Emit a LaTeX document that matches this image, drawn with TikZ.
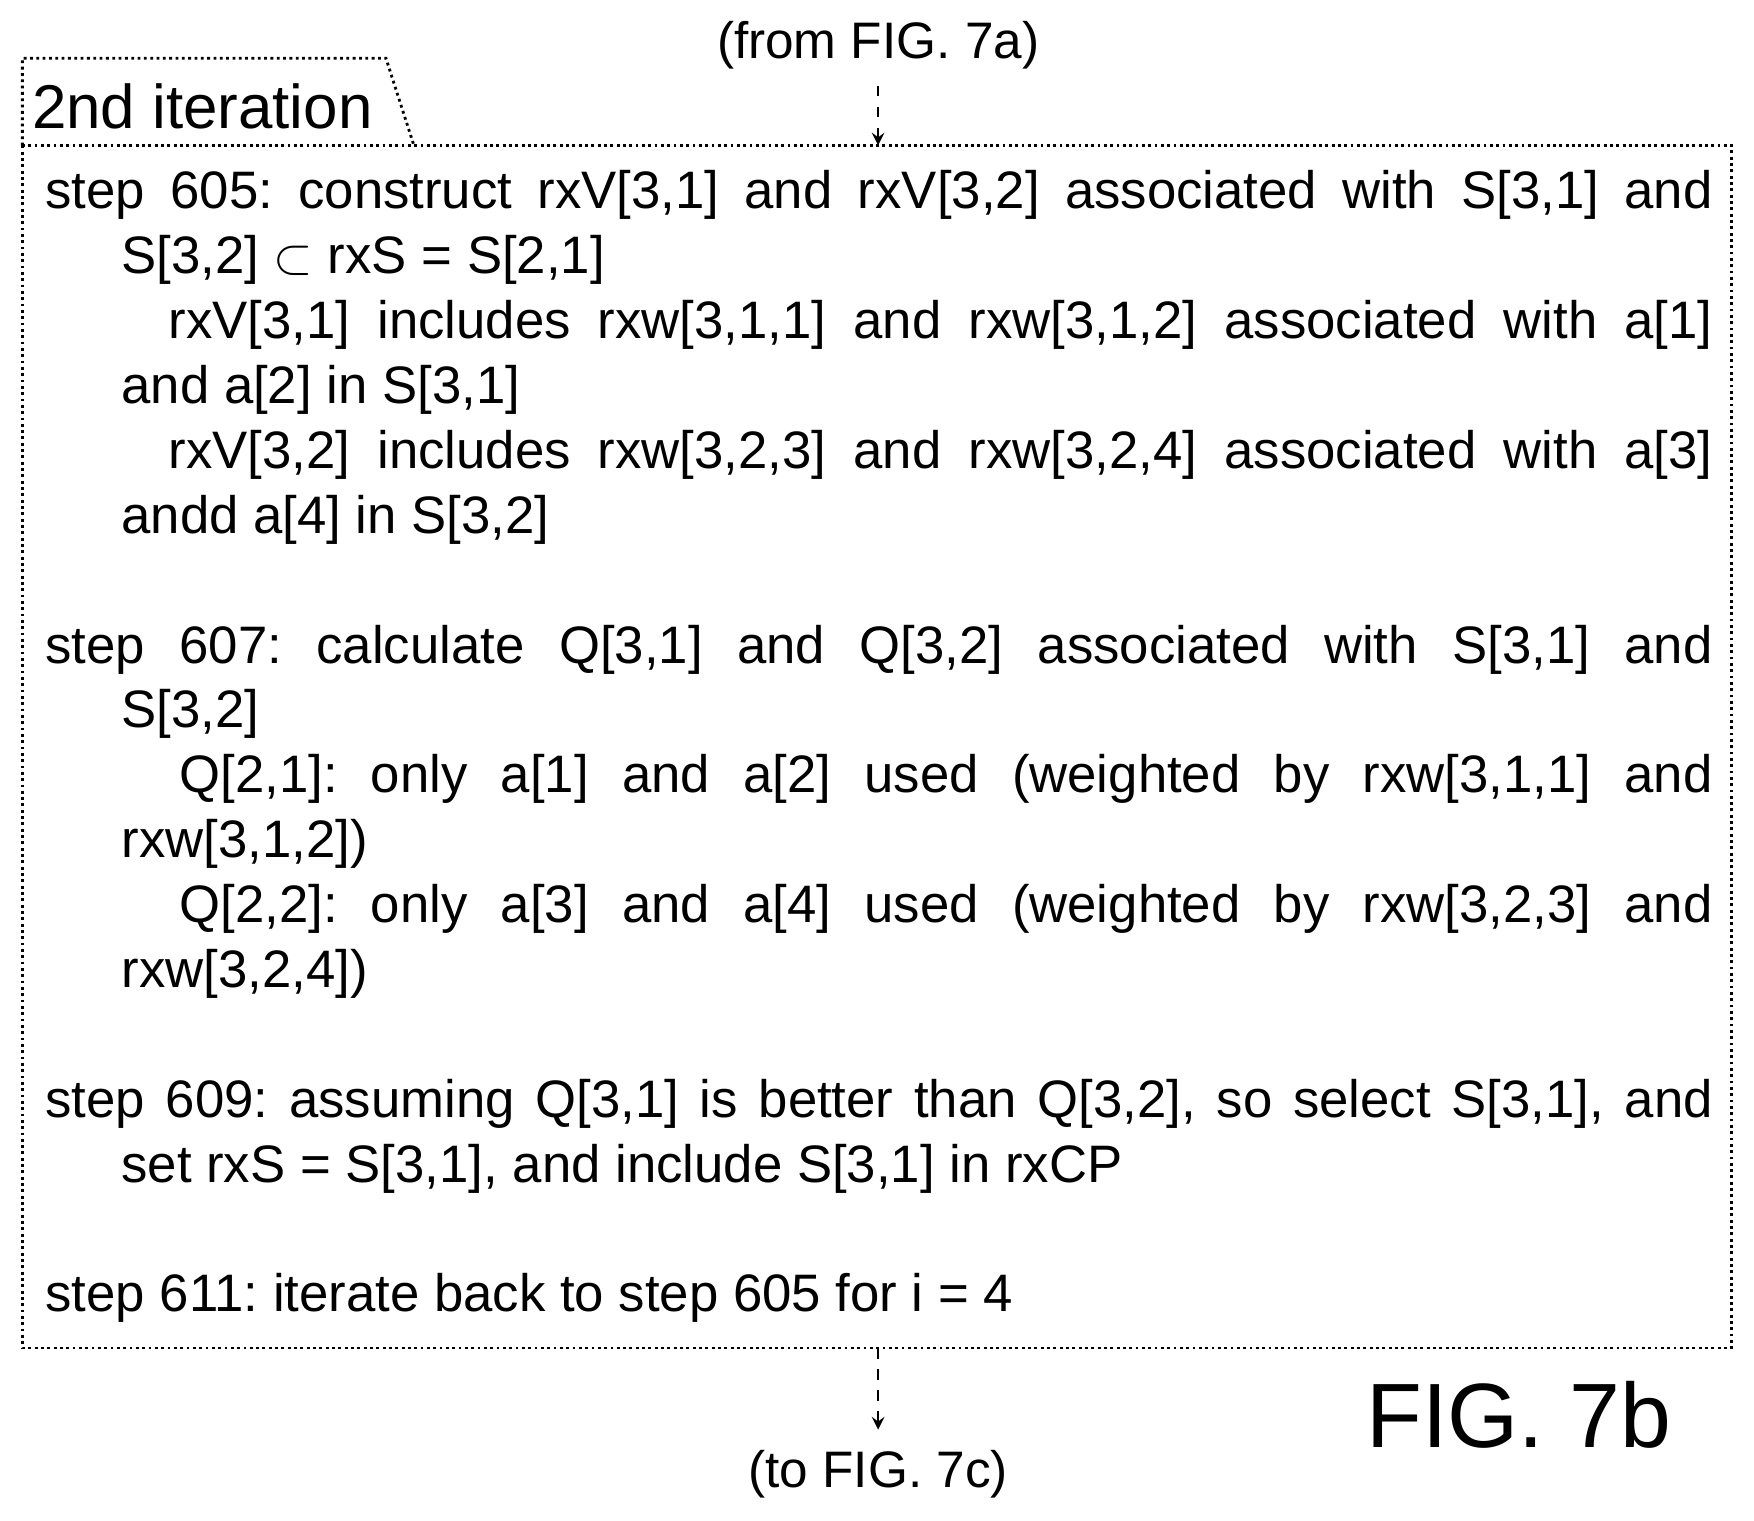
\documentclass[tikz,border=0pt]{standalone}
\usepackage{fontspec}
\setmainfont{Liberation Sans}
\usetikzlibrary{positioning}
\tikzset{
  frame/.style={densely dotted, line width=0.8pt},
  link/.style={dashed, line width=0.6pt, -stealth},
  body/.style={anchor=north west, inner sep=0pt, text width=16.67cm, align=justify,
    font=\fontsize{15}{18.46}\selectfont\frenchspacing},
}
\newcommand{\stepitem}[1]{\par\hangindent=0.76cm\hangafter=1\noindent #1}
\newcommand{\stepsub}[2]{\par\hangindent=0.76cm\hangafter=1\noindent\hspace*{#1}#2}
\begin{document}
\begin{tikzpicture}[x=0.011186cm, y=-0.011186cm]
  \useasboundingbox (0,0) rectangle (1568,1359);
  % frame and tab
  \draw[frame] (20,130) rectangle (1548,1205);
  \draw[frame] (20,130) -- (20,52) -- (345,52) -- (370,130);
  \node[anchor=west, inner sep=0pt, font=\fontsize{17.6}{20}\selectfont] (tab) at (28,95) {2nd iteration};
  % connectors
  \node[font=\fontsize{14.6}{16}\selectfont] (from) at (785,40) {(from FIG. 7a)};
  \coordinate (top) at (785,130);
  \draw[link] (from.south) ++(0,4) -- (top);
  \coordinate (bot) at (785,1205);
  \node[font=\fontsize{14.6}{16}\selectfont] (to) at (785,1318) {(to FIG. 7c)};
  \draw[link] (bot) -- (785,1278);
  \node[anchor=east, font=\fontsize{26}{30}\selectfont] (fig) at (1505,1265) {FIG. 7b};
  % steps
  \node[body] (steps) at (40,128) {%
    \stepitem{step 605: construct rxV[3,1] and rxV[3,2] associated with S[3,1] and\linebreak S[3,2] $\subset$ rxS = S[2,1]}
    \stepsub{1.23cm}{rxV[3,1] includes rxw[3,1,1] and rxw[3,1,2] associated with a[1]\linebreak and a[2] in S[3,1]}
    \stepsub{1.23cm}{rxV[3,2] includes rxw[3,2,3] and rxw[3,2,4] associated with a[3]\linebreak andd a[4] in S[3,2]}
    \par\vspace{18.46pt}
    \stepitem{step 607: calculate Q[3,1] and Q[3,2] associated with S[3,1] and\linebreak S[3,2]}
    \stepsub{1.34cm}{Q[2,1]: only a[1] and a[2] used (weighted by rxw[3,1,1] and\linebreak rxw[3,1,2])}
    \stepsub{1.34cm}{Q[2,2]: only a[3] and a[4] used (weighted by rxw[3,2,3] and\linebreak rxw[3,2,4])}
    \par\vspace{18.46pt}
    \stepitem{step 609: assuming Q[3,1] is better than Q[3,2], so select S[3,1], and\linebreak set rxS = S[3,1], and include S[3,1] in rxCP}
    \par\vspace{18.46pt}
    \stepitem{step 611: iterate back to step 605 for i = 4}\par};
\end{tikzpicture}
\end{document}
